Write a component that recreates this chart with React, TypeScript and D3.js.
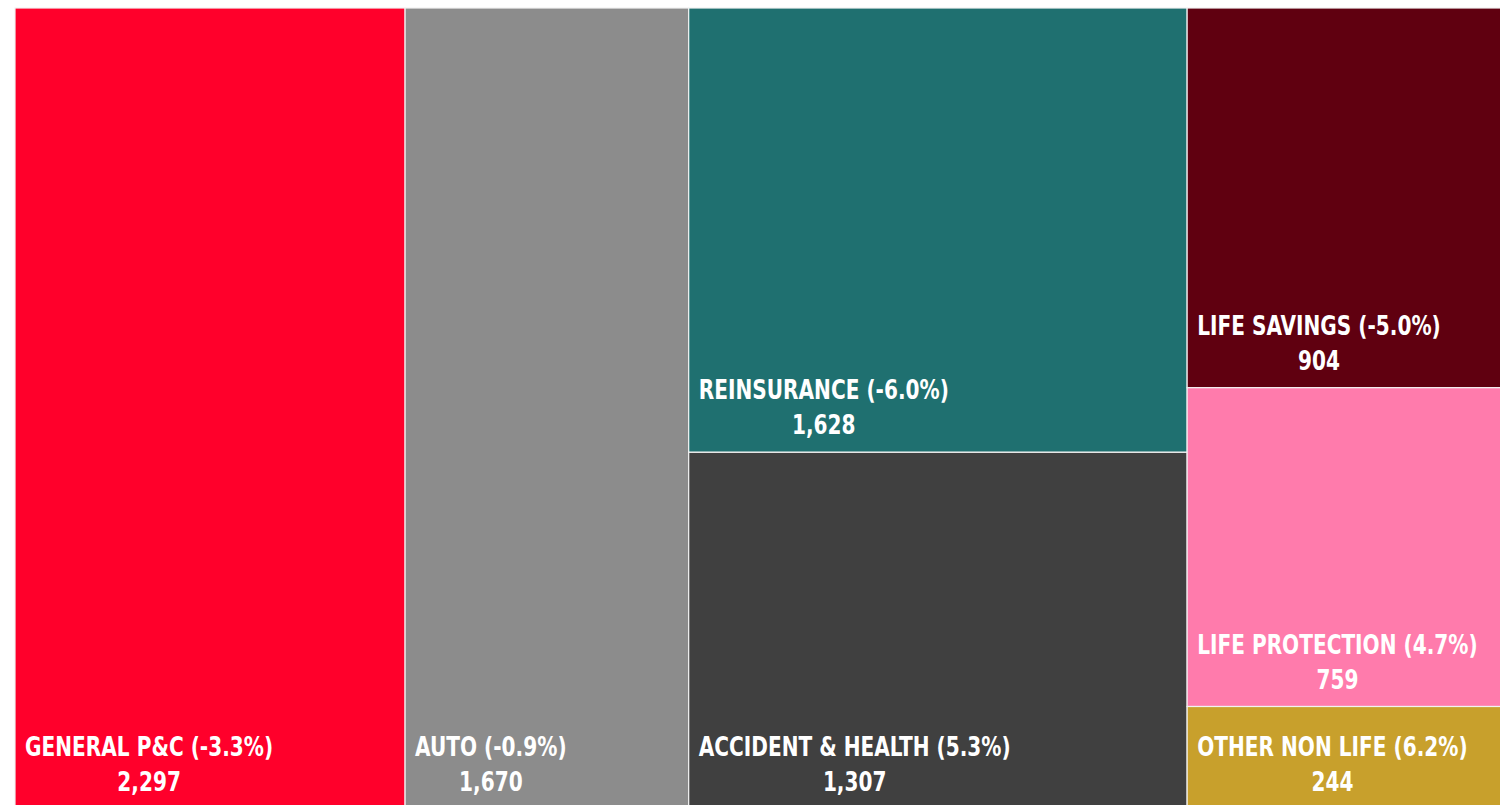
import React, { useEffect, useRef } from 'react';
import * as d3 from 'd3';

// Segments, in drawing order
const categories = [
  'GENERAL P&C',
  'AUTO',
  'REINSURANCE',
  'ACCIDENT & HEALTH',
  'LIFE SAVINGS',
  'LIFE PROTECTION',
  'OTHER NON LIFE',
];
const values = [2297, 1670, 1628, 1307, 904, 759, 244];
const changes = ['-3.3%', '-0.9%', '-6.0%', '5.3%', '-5.0%', '4.7%', '6.2%'];
// column each segment sits in
const groups = [0, 1, 2, 2, 3, 3, 3];
const colors = ['#ff002b', '#8c8c8c', '#1f7070', '#404040', '#600010', '#ff7bac', '#c8a02c'];

interface Leaf {
  name: string;
  value: number;
  change: string;
  color: string;
}

const App: React.FC = () => {
  const svgRef = useRef<SVGSVGElement>(null);

  useEffect(() => {
    const svg = d3.select(svgRef.current);
    svg.selectAll('*').remove();

    const width = 1500;
    const height = 805;
    // the map runs a little past the right and bottom edges
    const x0 = 15, y0 = 8, x1 = 1511, y1 = 809;
    const squeeze = 0.86; // narrow the lettering, it's a condensed face

    svg.attr('width', width).attr('height', height);

    // build the hierarchy: root -> columns -> segments
    const columns = d3.groups(
      categories.map((c, i) => ({ name: c, value: values[i], change: changes[i], color: colors[i], g: groups[i] })),
      d => d.g
    ).map(([g, items]) => ({ name: 'col' + g, children: items }));

    const root = d3.hierarchy<any>({ name: 'root', children: columns })
      .sum(d => (d.children ? 0 : d.value));

    d3.treemap<any>()
      .tile(d3.treemapSliceDice)
      .size([x1 - x0, y1 - y0])
      .paddingInner(0)(root);

    const leaves = root.leaves() as d3.HierarchyRectangularNode<Leaf>[];

    const g = svg.append('g').attr('transform', `translate(${x0},${y0})`);

    const cell = g.selectAll('g.cell')
      .data(leaves)
      .enter()
      .append('g')
      .attr('class', 'cell');

    cell.append('rect')
      .attr('x', d => d.x0)
      .attr('y', d => d.y0)
      .attr('width', d => d.x1 - d.x0)
      .attr('height', d => d.y1 - d.y0)
      .attr('fill', d => d.data.color)
      .attr('stroke', '#f2f2f2')
      .attr('stroke-width', 1.2);

    const font = '"DejaVu Sans Condensed", "DejaVu Sans", sans-serif';

    cell.each(function (d) {
      const sel = d3.select(this);
      const label = sel.append('text')
        .attr('transform', `translate(${d.x0 + 10},${d.y1 - 53}) scale(${squeeze},1)`)
        .style('font-family', font)
        .style('font-weight', 'bold')
        .style('font-size', '26px')
        .style('fill', 'white')
        .text(`${d.data.name} (${d.data.change})`);
      const w = (label.node() as SVGTextElement).getComputedTextLength() * squeeze;

      sel.append('text')
        .attr('transform', `translate(${d.x0 + 10 + w / 2},${d.y1 - 18}) scale(${squeeze},1)`)
        .attr('text-anchor', 'middle')
        .style('font-family', font)
        .style('font-weight', 'bold')
        .style('font-size', '26px')
        .style('fill', 'white')
        .text(d3.format(',')(d.data.value));
    });
  }, []);

  return (
    <div style={{ position: 'fixed', left: 0, top: 0, width: 1500, height: 805, overflow: 'hidden', background: 'white' }}>
      <svg ref={svgRef} style={{ display: 'block' }}></svg>
    </div>
  );
};

export default App;
